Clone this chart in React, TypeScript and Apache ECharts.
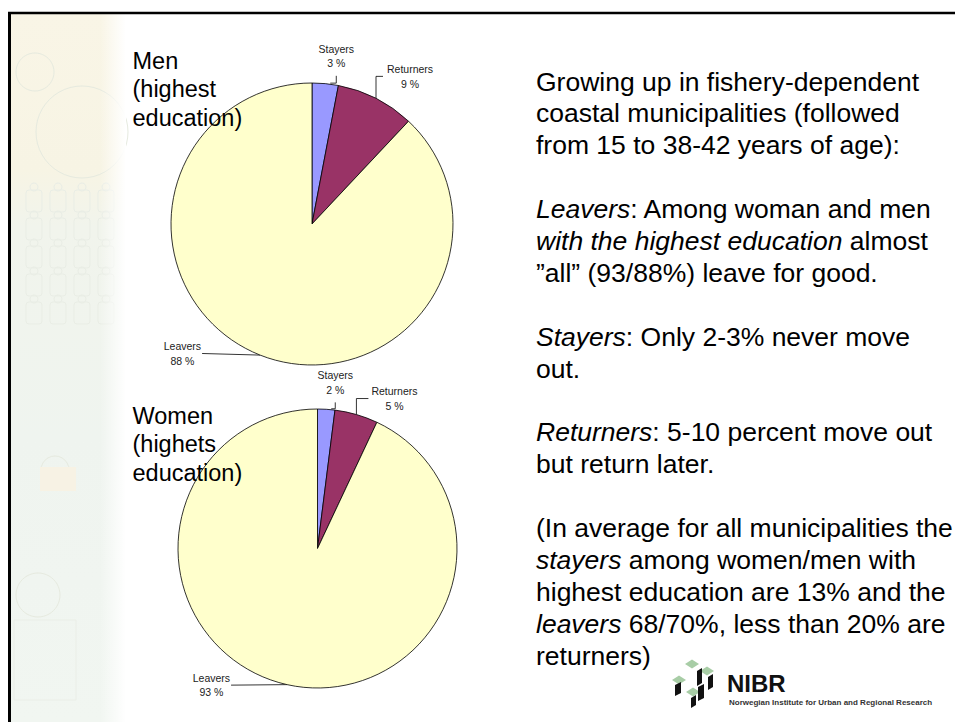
import React, { useEffect, useRef } from 'react';
import * as echarts from 'echarts';

// ---------- data ----------
const CATEGORIES = ['Stayers', 'Returners', 'Leavers'];
const MEN_VALUES = [3, 9, 88];
const WOMEN_VALUES = [2, 5, 93];
const SLICE_COLORS = ['#9999FF', '#993366', '#FFFFCC'];
const PIE_TITLES = [
  ['Men', '(highest', 'education)'],
  ['Women', '(highets', 'education)'],
];

// right-hand text: each line is a list of [text, italic]
const TEXT_LINES: [string, boolean][][] = [
  [['Growing up in fishery-dependent', false]],
  [['coastal municipalities (followed', false]],
  [['from 15 to 38-42 years of age):', false]],
  [],
  [['Leavers', true], [': Among woman and men', false]],
  [['with the highest education', true], [' almost', false]],
  [['\u201Dall\u201D (93/88%) leave for good.', false]],
  [],
  [['Stayers', true], [': Only 2-3% never move', false]],
  [['out.', false]],
  [],
  [['Returners', true], [': 5-10 percent move out', false]],
  [['but return later.', false]],
  [],
  [['(In average for all municipalities the', false]],
  [['stayers', true], [' among women/men with', false]],
  [['highest education are 13% and the', false]],
  [['leavers', true], [' 68/70%, less than 20% are', false]],
  [['returners)', false]],
];

// ---------- layout / style ----------
const FONT = '"Liberation Sans", Arial, Helvetica, sans-serif';
const PIES = [
  { center: [312, 224], radius: 141, titleBaseline: 69.3 },
  { center: [317.5, 548.5], radius: 139.5, titleBaseline: 424.3 },
];
const LABEL_GEOM = [
  { stayerShift: 11, stayerRise: 13.3, stayerLineGap: 5.5, returnerRise: 22, returnerRun: 7, returnerGap: 11, leaverRun: 58, leaverDy: -1.6 },
  { stayerShift: 9, stayerRise: 12.4, stayerLineGap: 5.5, returnerRise: 16, returnerRun: 12, returnerGap: 15, leaverRun: 56, leaverDy: 0.5 },
];
const TITLE_FS = 23.5;
const TITLE_LH = 28.3;
const BODY_FS = 26.5;
const BODY_LH = 31.9;
const BODY_X = 536;
const BODY_BASELINE0 = 90.7;
const CENTRAL = 0.3465; // central baseline offset (em)

function makeLabelLayout(g: any) {
  return (p: any) => {
    const pts = p.labelLinePoints;
    if (!pts || !pts.length) return {};
    const x0 = pts[0][0];
    const y0 = pts[0][1];
    const w = p.labelRect.width;
    const h = p.labelRect.height;
    if (p.dataIndex === 0) {
      const lx = x0 + g.stayerShift;
      const bottom = y0 - g.stayerRise;
      return {
        x: lx,
        y: bottom - h / 2,
        align: 'center',
        verticalAlign: 'middle',
        labelLinePoints: [[x0 + 5, y0 - 0.5], [lx, y0 - 0.5], [lx, bottom + g.stayerLineGap]],
      };
    }
    if (p.dataIndex === 1) {
      const yl = y0 - g.returnerRise;
      return {
        x: x0 + g.returnerGap + w / 2,
        y: yl,
        align: 'center',
        verticalAlign: 'middle',
        labelLinePoints: [[x0, y0], [x0, yl], [x0 + g.returnerRun, yl]],
      };
    }
    const yl = y0 + g.leaverDy;
    const xe = x0 - g.leaverRun;
    return {
      x: xe - 1 - w / 2,
      y: yl,
      align: 'center',
      verticalAlign: 'middle',
      labelLinePoints: [[x0, y0], [xe, yl], [xe, yl]],
    };
  };
}

function pieSeries(values: number[], idx: number) {
  const cfg = PIES[idx];
  return {
    type: 'pie',
    center: cfg.center,
    radius: cfg.radius,
    startAngle: 90,
    clockwise: true,
    avoidLabelOverlap: false,
    silent: true,
    z: 2,
    data: CATEGORIES.map((name, i) => ({
      name,
      value: values[i],
      itemStyle: { color: SLICE_COLORS[i] },
    })),
    itemStyle: { borderColor: '#000', borderWidth: 0.8 },
    label: {
      show: true,
      position: 'outside',
      formatter: '{b}\n{c} %',
      fontFamily: FONT,
      fontSize: 10.5,
      lineHeight: 14.5,
      color: '#222',
    },
    labelLine: {
      show: true,
      length: 6,
      length2: 6,
      lineStyle: { color: '#000', width: 0.8 },
    },
    labelLayout: makeLabelLayout(LABEL_GEOM[idx]),
    emphasis: { disabled: true },
  };
}

function buildGraphics() {
  const els: any[] = [];
  // faded decorative strip on the left
  els.push({
    type: 'rect',
    z: 0,
    shape: { x: 11, y: 14, width: 114, height: 708 },
    style: {
      fill: new echarts.graphic.LinearGradient(0, 0, 0, 1, [
        { offset: 0, color: '#F9F5E6' },
        { offset: 0.22, color: '#F7F4E4' },
        { offset: 0.3, color: '#F1F4EC' },
        { offset: 0.6, color: '#EFF4EF' },
        { offset: 1, color: '#F1F6F1' },
      ]),
    },
  });
  const faint = '#E6EADF';
  const circles = [
    [35, 72, 19],
    [82, 132, 46],
    [38, 595, 22],
    [55, 470, 14],
  ];
  circles.forEach(([cx, cy, r]) =>
    els.push({ type: 'circle', z: 1, shape: { cx, cy, r }, style: { fill: 'none', stroke: faint, lineWidth: 1 } })
  );
  // faint figure outlines
  for (let row = 0; row < 5; row++) {
    for (let col = 0; col < 4; col++) {
      const x = 26 + col * 24;
      const y = 190 + row * 28;
      els.push({ type: 'rect', z: 1, shape: { x, y, width: 16, height: 22, r: 3 }, style: { fill: 'none', stroke: '#E9EDE5', lineWidth: 1 } });
      els.push({ type: 'circle', z: 1, shape: { cx: x + 8, cy: y - 3, r: 4 }, style: { fill: 'none', stroke: '#E9EDE5', lineWidth: 1 } });
    }
  }
  els.push({ type: 'rect', z: 1, shape: { x: 40, y: 467, width: 36, height: 24 }, style: { fill: '#F7F2E4' } });
  els.push({ type: 'rect', z: 1, shape: { x: 14, y: 620, width: 62, height: 80 }, style: { fill: 'none', stroke: '#EAEEE7', lineWidth: 1 } });
  els.push({
    type: 'rect',
    z: 1,
    shape: { x: 100, y: 14, width: 26, height: 708 },
    style: {
      fill: new echarts.graphic.LinearGradient(0, 0, 1, 0, [
        { offset: 0, color: 'rgba(255,255,255,0)' },
        { offset: 1, color: 'rgba(255,255,255,1)' },
      ]),
    },
  });

  // frame
  els.push({ type: 'line', z: 50, shape: { x1: 8, y1: 13, x2: 955, y2: 13 }, style: { stroke: '#000', lineWidth: 2.6 } });
  els.push({ type: 'line', z: 50, shape: { x1: 9.5, y1: 12, x2: 9.5, y2: 722 }, style: { stroke: '#000', lineWidth: 3 } });

  // pie titles
  PIE_TITLES.forEach((lines, pi) => {
    lines.forEach((t, k) => {
      const baseline = PIES[pi].titleBaseline + k * TITLE_LH;
      els.push({
        type: 'text',
        z: 100,
        x: 132.5,
        y: baseline - CENTRAL * TITLE_FS,
        style: { text: t, fill: '#000', fontSize: TITLE_FS, fontFamily: FONT, align: 'left', verticalAlign: 'middle' },
      });
    });
  });

  // right-hand body text
  TEXT_LINES.forEach((segs, i) => {
    if (!segs.length) return;
    const rich = segs.map(([t, it]) => `{${it ? 'i' : 'n'}|${t}}`).join('');
    const baseline = BODY_BASELINE0 + i * BODY_LH;
    els.push({
      type: 'text',
      z: 100,
      x: BODY_X,
      y: baseline - CENTRAL * BODY_FS,
      style: {
        text: rich,
        fill: '#000',
        fontSize: BODY_FS,
        fontFamily: FONT,
        align: 'left',
        verticalAlign: 'middle',
        rich: {
          n: { fontSize: BODY_FS, fontFamily: FONT, fontStyle: 'normal', fill: '#000' },
          i: { fontSize: BODY_FS, fontFamily: FONT, fontStyle: 'italic', fill: '#000' },
        },
      },
    });
  });

  // NIBR logo
  const green = '#A8CDA6';
  const diamonds = [
    [692, 664],
    [679, 680],
    [707, 671],
    [693, 692],
  ];
  diamonds.forEach(([cx, cy]) =>
    els.push({
      type: 'polygon',
      z: 60,
      shape: { points: [[cx - 7, cy], [cx, cy - 4.5], [cx + 7, cy], [cx, cy + 4.5]] },
      style: { fill: green },
    })
  );
  const blocks = [
    [675, 685, 6, 11],
    [697, 671, 5, 15],
    [698, 687, 6, 14],
    [708, 677, 5, 13],
    [691, 698, 5, 10],
  ];
  blocks.forEach(([x, y, w, h]) =>
    els.push({
      type: 'polygon',
      z: 60,
      shape: { points: [[x, y], [x + w, y - 3], [x + w, y + h - 3], [x, y + h]] },
      style: { fill: '#111' },
    })
  );
  els.push({
    type: 'text',
    z: 60,
    x: 727,
    y: 692 - CENTRAL * 24,
    style: { text: 'NIBR', fill: '#111', fontSize: 24, fontWeight: 'bold', fontFamily: FONT, verticalAlign: 'middle' },
  });
  els.push({
    type: 'text',
    z: 60,
    x: 729,
    y: 702,
    style: {
      text: 'Norwegian Institute for Urban and Regional Research',
      fill: '#333',
      fontSize: 8,
      fontWeight: 'bold',
      fontFamily: FONT,
      verticalAlign: 'middle',
    },
  });
  return els;
}

export default function App() {
  const ref = useRef<HTMLDivElement>(null);
  useEffect(() => {
    if (!ref.current) return;
    const chart = echarts.init(ref.current, undefined, { renderer: 'svg' });
    chart.setOption({
      animation: false,
      backgroundColor: '#ffffff',
      series: [pieSeries(MEN_VALUES, 0), pieSeries(WOMEN_VALUES, 1)],
      graphic: { elements: buildGraphics() },
    });
    return () => chart.dispose();
  }, []);
  return (
    <div
      ref={ref}
      style={{ position: 'fixed', left: 0, top: 0, width: 955, height: 722, background: '#fff' }}
    />
  );
}
